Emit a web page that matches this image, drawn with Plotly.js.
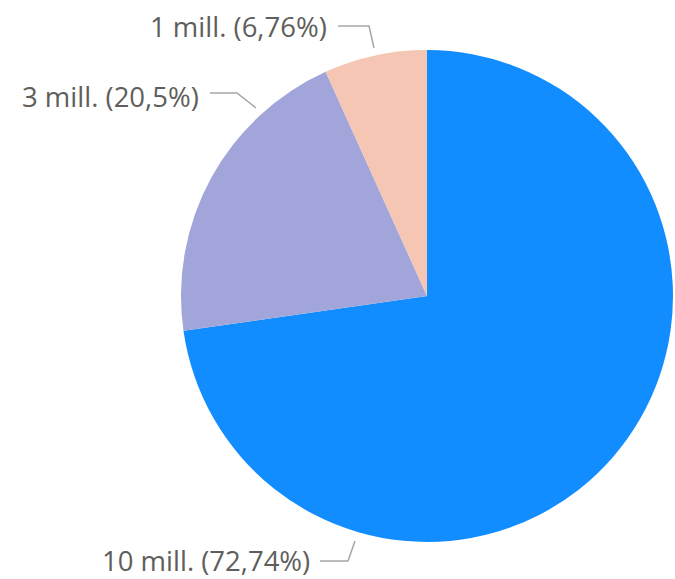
<!DOCTYPE html>
<html><head><meta charset="utf-8">
<script src="https://cdn.plot.ly/plotly-3.0.1.min.js"></script>
<style>html,body{margin:0;padding:0;background:#fff}</style>
</head><body><div id="chart" style="width:675px;height:579px"></div>
<script>
const categories = ["10 mill.", "3 mill.", "1 mill."];
const values = [72.74, 20.5, 6.76];
const colors = ["#118DFF", "#A2A5D9", "#F5C6B3"];
const percentLabels = ["72,74%", "20,5%", "6,76%"];

const W = 675, H = 579;
const cx = 427, cy = 296, R = 246;

// label layout: text anchor end point and leader line path (pixel positions)
const labelPos = [
  {tx: 311, ty: 560, line: [[320, 561], [348, 561], [355, 541]]},
  {tx: 200, ty: 96,  line: [[210, 93], [237, 93], [256, 108]]},
  {tx: 328, ty: 27,  line: [[338, 26], [369, 26], [374, 48]]}
];

const px = x => x / W;
const py = y => 1 - y / H;

const annotations = categories.map((c, i) => ({
  xref: 'paper', yref: 'paper',
  x: px(labelPos[i].tx), y: py(labelPos[i].ty),
  xanchor: 'right', yanchor: 'middle',
  text: c + ' (' + percentLabels[i] + ')',
  showarrow: false,
  borderpad: 0,
  font: {family: 'Open Sans, Noto Sans, sans-serif', size: 27.5, color: '#605E5C'}
}));

const shapes = labelPos.map(p => ({
  type: 'path', xref: 'paper', yref: 'paper',
  path: p.line.map((pt, k) => (k ? 'L' : 'M') + px(pt[0]) + ',' + py(pt[1])).join(' '),
  line: {color: '#A6A6A6', width: 1.5}
}));

const trace = {
  type: 'pie',
  labels: categories,
  values: values,
  sort: false,
  direction: 'clockwise',
  rotation: 0,
  textinfo: 'none',
  hoverinfo: 'label+percent',
  marker: {colors: colors, line: {color: '#ffffff', width: 0}},
  domain: {x: [(cx - R) / W, (cx + R) / W], y: [(H - cy - R) / H, (H - cy + R) / H]}
};

Plotly.newPlot('chart', [trace], {
  width: W, height: H,
  margin: {l: 0, r: 0, t: 0, b: 0},
  showlegend: false,
  paper_bgcolor: '#ffffff',
  annotations: annotations,
  shapes: shapes
}, {displayModeBar: false});
</script></body></html>
